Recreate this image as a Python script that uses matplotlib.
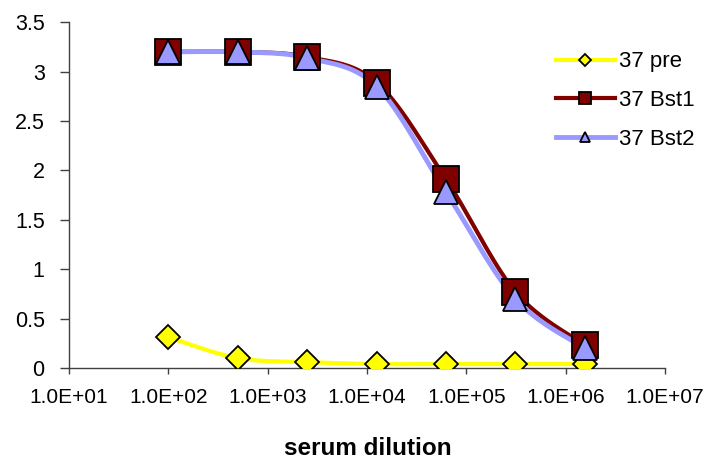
import numpy as np
import matplotlib
matplotlib.use("Agg")
import matplotlib.pyplot as plt
from matplotlib.ticker import FixedLocator, NullLocator

plt.rcParams['font.family'] = ['Liberation Sans', 'DejaVu Sans']

dilution = [100, 500, 2500, 12500, 62500, 312500, 1562500]
pre = [0.31, 0.10, 0.06, 0.04, 0.04, 0.04, 0.04]
bst1 = [3.20, 3.20, 3.15, 2.89, 1.91, 0.77, 0.23]
bst2 = [3.20, 3.20, 3.14, 2.85, 1.78, 0.70, 0.20]
xtick_vals = [1e1, 1e2, 1e3, 1e4, 1e5, 1e6, 1e7]
xtick_labels = ["1.0E+01", "1.0E+02", "1.0E+03", "1.0E+04", "1.0E+05", "1.0E+06", "1.0E+07"]
ytick_vals = [0, 0.5, 1, 1.5, 2, 2.5, 3, 3.5]
ytick_labels = ["0", "0.5", "1", "1.5", "2", "2.5", "3", "3.5"]


def smooth(xs, ys, n=40):
    """Excel-like smoothed line (Catmull-Rom Bezier) in log-x space."""
    u = np.log10(np.asarray(xs, float))
    v = np.asarray(ys, float)
    P = np.column_stack([u, v])
    m = len(P)
    out = []
    t = np.linspace(0, 1, n)[:, None]
    for i in range(m - 1):
        p0 = P[i - 1] if i > 0 else P[i]
        p1 = P[i]
        p2 = P[i + 1]
        p3 = P[i + 2] if i + 2 < m else P[i + 1]
        c1 = p1 + (p2 - p0) / 6.0
        c2 = p2 - (p3 - p1) / 6.0
        seg = ((1 - t) ** 3) * p1 + 3 * ((1 - t) ** 2) * t * c1 + 3 * (1 - t) * t ** 2 * c2 + t ** 3 * p2
        out.append(seg if i == 0 else seg[1:])
    S = np.vstack(out)
    return 10 ** S[:, 0], S[:, 1]


fig = plt.figure(figsize=(7.07, 4.59), dpi=100)
ax = fig.add_axes([69 / 707, 1 - 368 / 459, (665 - 69) / 707, (368 - 22.3) / 459])
ax.set_xscale('log')
ax.set_xlim(1e1, 1e7)
ax.set_ylim(0, 3.5)

series = [
    ("37 pre", pre, "#FFFF00", "D", 12.5, 3.0),
    ("37 Bst1", bst1, "#800000", "s", 18.5, 3.0),
    ("37 Bst2", bst2, "#9999FF", "^", 17.5, 3.5),
]
handles = []
for name, vals, col, mk, ms, lw in series:
    sx, sy = smooth(dilution, vals)
    ax.plot(sx, sy, color=col, lw=lw, solid_capstyle='round', zorder=2)
    ax.plot(dilution, vals, linestyle='none', marker=mk, ms=ms, mfc=col,
            mec='black', mew=1.3, zorder=3)
    h, = ax.plot([], [], color=col, lw=lw, marker=mk, ms=ms, mfc=col,
                 mec='black', mew=1.3)
    h.set_label(name)
    handles.append(h)

for s in ['top', 'right']:
    ax.spines[s].set_visible(False)
for s in ['left', 'bottom']:
    ax.spines[s].set_color('#404040')
    ax.spines[s].set_linewidth(1.0)

ax.xaxis.set_major_locator(FixedLocator(xtick_vals))
ax.xaxis.set_minor_locator(NullLocator())
ax.set_xticklabels(xtick_labels)
ax.set_yticks(ytick_vals)
ax.set_yticklabels(ytick_labels)
ax.tick_params(axis='x', direction='out', length=4, width=1, color='#404040',
               labelsize=15, pad=10.5)
ax.tick_params(axis='y', direction='out', length=6.5, width=1, color='#404040',
               labelsize=15.5, pad=11)

fig.text(368 / 707, 1 - 455 / 459, "serum dilution", ha='center', va='baseline',
         fontsize=17.5, fontweight='bold')

leg = fig.legend(handles=handles, loc='center left',
                 bbox_to_anchor=(556 / 707, 1 - 100.7 / 459),
                 frameon=False, fontsize=16, handlelength=2.65,
                 handletextpad=0.2, labelspacing=0.8, markerscale=0.45,
                 numpoints=1, borderpad=0, borderaxespad=0)

fig.savefig("out.png", dpi=100)
